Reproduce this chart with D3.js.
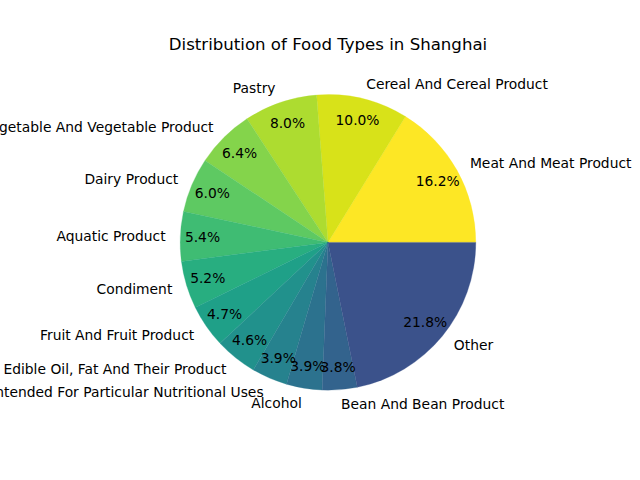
<!DOCTYPE html>
<html><head><meta charset="utf-8">
<script src="https://cdn.jsdelivr.net/npm/d3@7"></script>
<style>body{margin:0;background:#fff}svg{display:block}text{font-family:"DejaVu Sans",sans-serif}</style>
</head><body>
<svg id="c" width="640" height="480"></svg>
<script>
const categories = ["Meat And Meat Product","Cereal And Cereal Product","Pastry","Vegetable And Vegetable Product","Dairy Product","Aquatic Product","Condiment","Fruit And Fruit Product","Edible Oil, Fat And Their Product","Food Intended For Particular Nutritional Uses","Alcohol","Bean And Bean Product","Other"];
const values = [16.2,10.0,8.0,6.4,6.0,5.4,5.2,4.7,4.6,3.9,3.9,3.8,21.8];
const title = "Distribution of Food Types in Shanghai";

const W=640,H=480;
const svg=d3.select("#c");
const cx=328, cy=242.4, R=147.8;
const color=i=>d3.interpolateViridis(1 - i/16);
const data=categories.map((c,i)=>({c,v:values[i],i}));
const pie=d3.pie().value(d=>d.v).sort(null).startAngle(Math.PI/2).endAngle(Math.PI/2-2*Math.PI);
const arcs=pie(data);
const arc=d3.arc().innerRadius(0).outerRadius(R);
const g=svg.append("g").attr("transform",`translate(${cx},${cy})`);
g.selectAll("path").data(arcs).join("path")
  .attr("d",arc).attr("fill",d=>color(d.data.i))
  .attr("stroke",d=>color(d.data.i)).attr("stroke-width",0.3);
const total=d3.sum(values);
const fs="13.85px";
arcs.forEach(d=>{
  const a=(d.startAngle+d.endAngle)/2;
  const sx=Math.sin(a), sy=-Math.cos(a);
  g.append("text").attr("x",1.1*R*sx).attr("y",1.1*R*sy).attr("dy","0.35em")
   .attr("text-anchor",sx>0?"start":"end").attr("font-size",fs).attr("fill","#000")
   .text(d.data.c);
  g.append("text").attr("x",0.85*R*sx).attr("y",0.85*R*sy).attr("dy","0.35em")
   .attr("text-anchor","middle").attr("font-size",fs).attr("fill","#000")
   .text((d.data.v/total*100).toFixed(1)+"%");
});
svg.append("text").attr("x",cx).attr("y",49.6).attr("text-anchor","middle")
  .attr("font-size","16.6px").attr("fill","#000").text(title);
</script>
</body></html>
